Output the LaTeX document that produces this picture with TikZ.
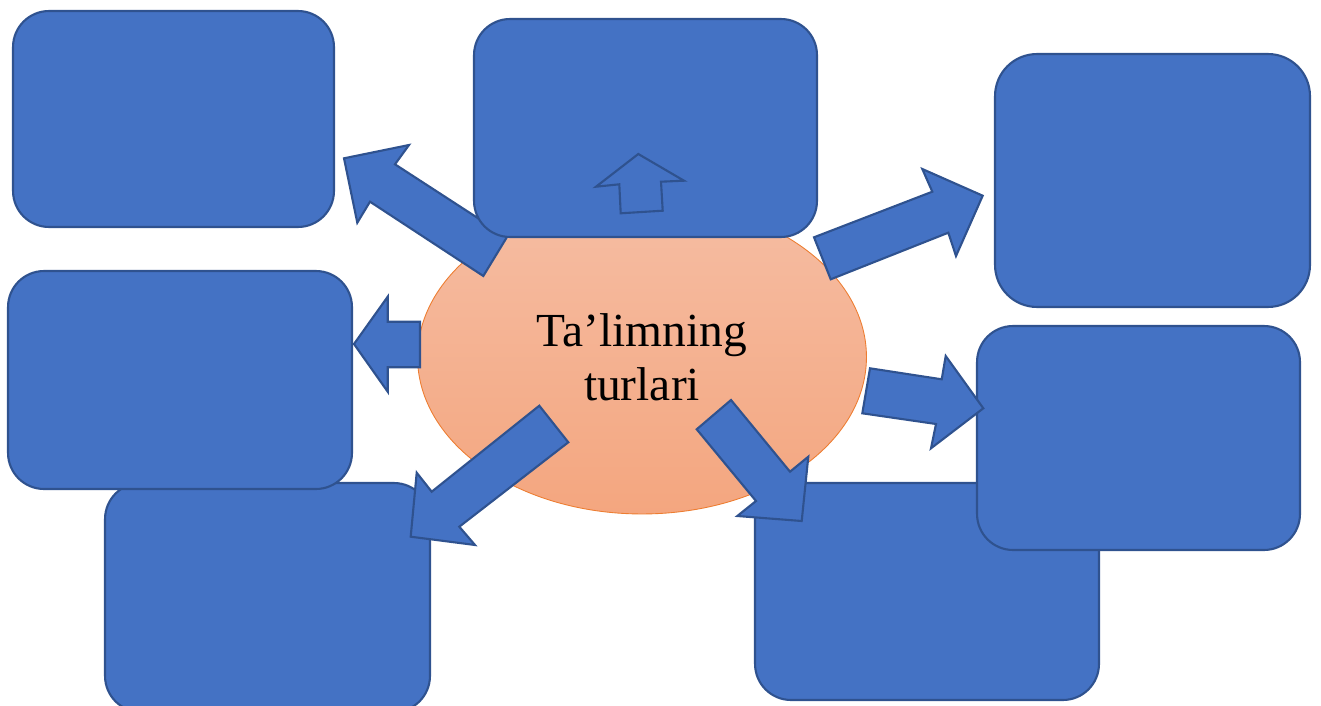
\documentclass[tikz,border=0pt]{standalone}
\usepackage{fontspec}
\setmainfont{Liberation Serif}
\usetikzlibrary{shapes.geometric}
\definecolor{boxfill}{HTML}{4472C4}
\definecolor{boxline}{HTML}{2F528F}
\definecolor{elltop}{HTML}{F5BDA3}
\definecolor{ellbot}{HTML}{F4A67F}
\definecolor{ellline}{HTML}{ED7D31}
\tikzset{
  bluebox/.style={draw=boxline, fill=boxfill, line width=1.2pt, rounded corners=0.72cm, rectangle, inner sep=0pt},
  blockarrow/.style={draw=boxline, fill=boxfill, line width=1.2pt, line join=miter},
  hollowarrow/.style={draw=boxline, line width=1.2pt, line join=miter},
  centreell/.style={ellipse, draw=ellline, line width=0.5pt, top color=elltop, bottom color=ellbot, inner sep=0pt, align=center, font=\fontsize{27pt}{30.7pt}\selectfont}
}
\begin{document}
\begin{tikzpicture}[x=0.02cm, y=-0.02cm]
\useasboundingbox (0,0) rectangle (1321,706);
\clip (0,0) rectangle (1321,706);
% central ellipse
\node[centreell, minimum width=8.98cm, minimum height=6.28cm] (centre) at (642,357) {Ta’limning\\turlari};
% arrows behind the top box
\draw[blockarrow] (507,237) -- (395,164.3) -- (409,145) -- (344,158.3) -- (357.3,222.7) -- (370,201.7) -- (483.3,276) -- cycle;
\draw[blockarrow] (814,237.3) -- (932.3,191.7) -- (922.3,169) -- (982.7,195.7) -- (956,256) -- (948.3,232.7) -- (830.7,279.3) -- cycle;
% top box and its outline arrow
\node[bluebox, minimum width=6.86cm, minimum height=4.36cm] (top) at (645.5,128) {};
\draw[hollowarrow] (638.3,154) -- (684,180.7) -- (661,181.7) -- (662.7,210.7) -- (620.7,213.3) -- (619.3,184.3) -- (596,186.7) -- cycle;
% other boxes
\node[bluebox, minimum width=6.42cm, minimum height=4.32cm] (topleft) at (173.5,119) {};
\node[bluebox, rounded corners=0.84cm, minimum width=6.30cm, minimum height=5.06cm] (topright) at (1152.5,180.5) {};
\node[bluebox, minimum width=6.50cm, minimum height=4.58cm] (botleft) at (267.5,597.5) {};
\node[bluebox, minimum width=6.88cm, minimum height=4.36cm] (midleft) at (180,380) {};
% left and down-left arrows
\draw[blockarrow] (354,344) -- (387.7,296.7) -- (387.7,321.7) -- (420,321.7) -- (420,367.3) -- (387.7,367.3) -- (387.7,391.7) -- cycle;
\draw[blockarrow] (539.3,405.7) -- (568.3,442.3) -- (459.3,526.7) -- (475,545) -- (410.7,536.7) -- (416.7,472.7) -- (431.7,491.7) -- cycle;
% lower right boxes
\node[bluebox, minimum width=6.88cm, minimum height=4.34cm] (botmid) at (927,591.5) {};
\node[bluebox, minimum width=6.46cm, minimum height=4.48cm] (midright) at (1138.5,438) {};
% down-right and right arrows
\draw[blockarrow] (696.7,429.3) -- (731,400) -- (790,471.7) -- (808.3,456.7) -- (801.7,521) -- (737.3,516) -- (756,501) -- cycle;
\draw[blockarrow] (870,368.3) -- (941.7,379.3) -- (945.7,356) -- (983.3,408.3) -- (931,448.3) -- (936,424) -- (862.3,413.3) -- cycle;
\end{tikzpicture}
\end{document}
